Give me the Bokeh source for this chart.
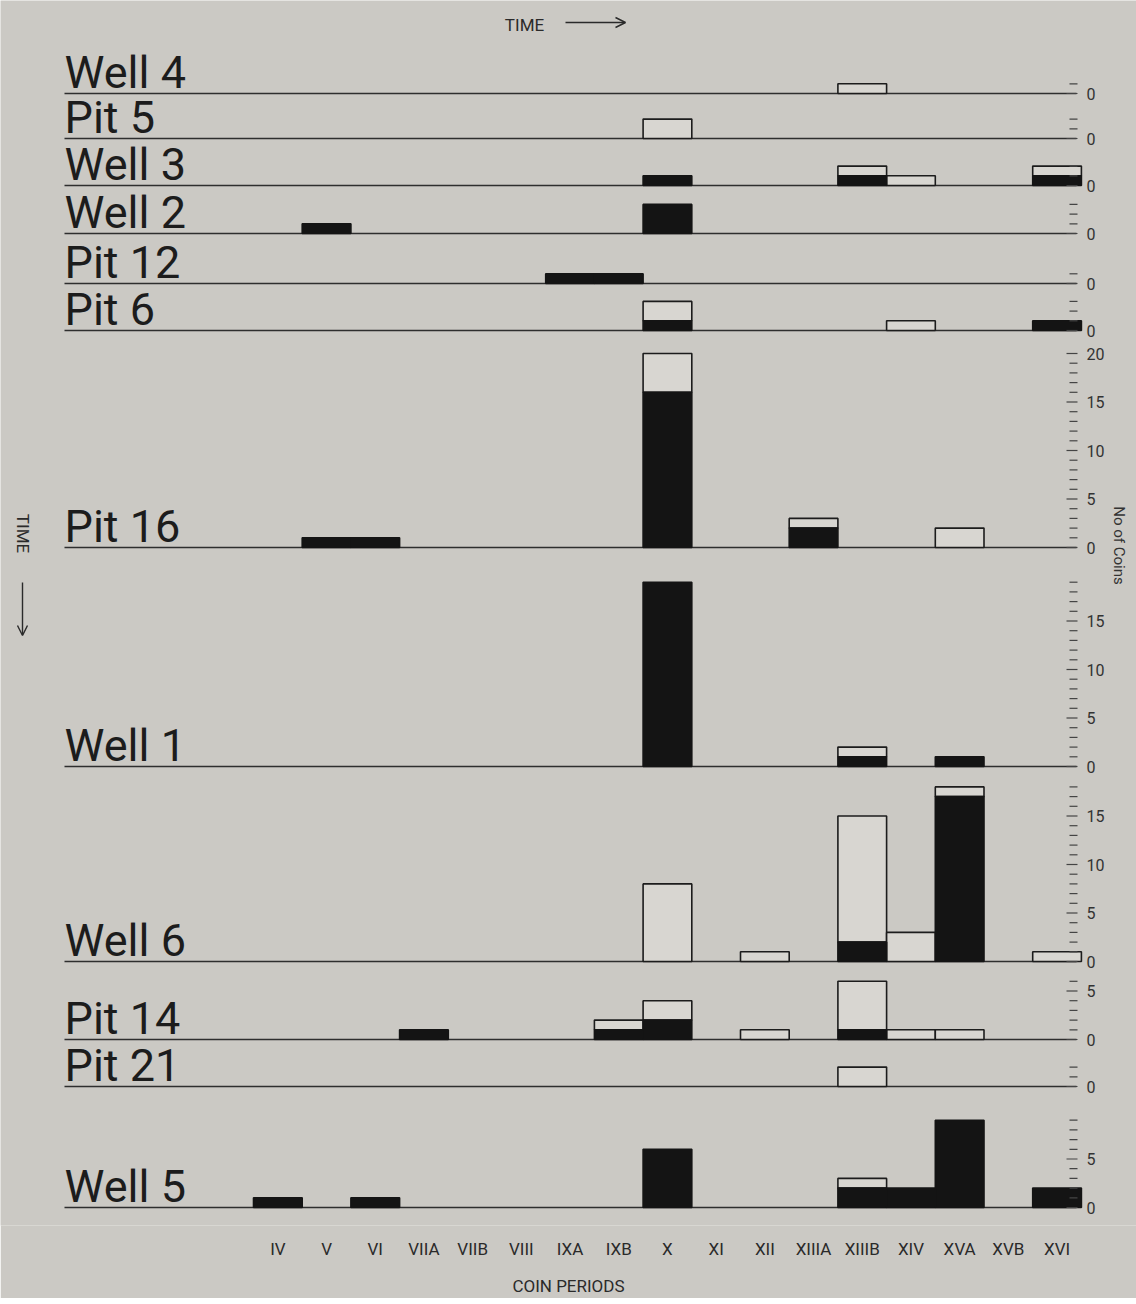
import math
from bokeh.plotting import figure
from bokeh.models import Range1d, FixedTicker, Arrow, OpenHead
from bokeh.core.properties import value
from bokeh.embed import file_html
from bokeh.resources import INLINE

# ---------------- data ----------------
periods = ["IV", "V", "VI", "VIIA", "VIIB", "VIII", "IXA", "IXB", "X", "XI",
           "XII", "XIIIA", "XIIIB", "XIV", "XVA", "XVB", "XVI"]

panel_names = ["Well 4", "Pit 5", "Well 3", "Well 2", "Pit 12", "Pit 6",
               "Pit 16", "Well 1", "Well 6", "Pit 14", "Pit 21", "Well 5"]

#                IV V VI VIIA VIIB VIII IXA IXB X  XI XII XIIIA XIIIB XIV XVA XVB XVI
well4_black  = [0, 0, 0, 0, 0, 0, 0, 0, 0, 0, 0, 0, 0, 0, 0, 0, 0]
well4_white  = [0, 0, 0, 0, 0, 0, 0, 0, 0, 0, 0, 0, 1, 0, 0, 0, 0]
pit5_black   = [0, 0, 0, 0, 0, 0, 0, 0, 0, 0, 0, 0, 0, 0, 0, 0, 0]
pit5_white   = [0, 0, 0, 0, 0, 0, 0, 0, 2, 0, 0, 0, 0, 0, 0, 0, 0]
well3_black  = [0, 0, 0, 0, 0, 0, 0, 0, 1, 0, 0, 0, 1, 0, 0, 0, 1]
well3_white  = [0, 0, 0, 0, 0, 0, 0, 0, 0, 0, 0, 0, 1, 1, 0, 0, 1]
well2_black  = [0, 1, 0, 0, 0, 0, 0, 0, 3, 0, 0, 0, 0, 0, 0, 0, 0]
well2_white  = [0, 0, 0, 0, 0, 0, 0, 0, 0, 0, 0, 0, 0, 0, 0, 0, 0]
pit12_black  = [0, 0, 0, 0, 0, 0, 1, 1, 0, 0, 0, 0, 0, 0, 0, 0, 0]
pit12_white  = [0, 0, 0, 0, 0, 0, 0, 0, 0, 0, 0, 0, 0, 0, 0, 0, 0]
pit6_black   = [0, 0, 0, 0, 0, 0, 0, 0, 1, 0, 0, 0, 0, 0, 0, 0, 1]
pit6_white   = [0, 0, 0, 0, 0, 0, 0, 0, 2, 0, 0, 0, 0, 1, 0, 0, 0]
pit16_black  = [0, 1, 1, 0, 0, 0, 0, 0, 16, 0, 0, 2, 0, 0, 0, 0, 0]
pit16_white  = [0, 0, 0, 0, 0, 0, 0, 0, 4, 0, 0, 1, 0, 0, 2, 0, 0]
well1_black  = [0, 0, 0, 0, 0, 0, 0, 0, 19, 0, 0, 0, 1, 0, 1, 0, 0]
well1_white  = [0, 0, 0, 0, 0, 0, 0, 0, 0, 0, 0, 0, 1, 0, 0, 0, 0]
well6_black  = [0, 0, 0, 0, 0, 0, 0, 0, 0, 0, 0, 0, 2, 0, 17, 0, 0]
well6_white  = [0, 0, 0, 0, 0, 0, 0, 0, 8, 0, 1, 0, 13, 3, 1, 0, 1]
pit14_black  = [0, 0, 0, 1, 0, 0, 0, 1, 2, 0, 0, 0, 1, 0, 0, 0, 0]
pit14_white  = [0, 0, 0, 0, 0, 0, 0, 1, 2, 0, 1, 0, 5, 1, 1, 0, 0]
pit21_black  = [0, 0, 0, 0, 0, 0, 0, 0, 0, 0, 0, 0, 0, 0, 0, 0, 0]
pit21_white  = [0, 0, 0, 0, 0, 0, 0, 0, 0, 0, 0, 0, 2, 0, 0, 0, 0]
well5_black  = [1, 0, 1, 0, 0, 0, 0, 0, 6, 0, 0, 0, 2, 2, 9, 0, 2]
well5_white  = [0, 0, 0, 0, 0, 0, 0, 0, 0, 0, 0, 0, 1, 0, 0, 0, 0]

black_series = [well4_black, pit5_black, well3_black, well2_black, pit12_black, pit6_black,
                pit16_black, well1_black, well6_black, pit14_black, pit21_black, well5_black]
white_series = [well4_white, pit5_white, well3_white, well2_white, pit12_white, pit6_white,
                pit16_white, well1_white, well6_white, pit14_white, pit21_white, well5_white]

# ---------------- layout ----------------
W, FRAME_H = 1136, 1225
SLOT_PX = 48.7          # width of one coin period
X0_PX = 277.35          # x of first period centre
COIN_PX = 9.7           # pixels per coin

def ux(px):
    return (px - X0_PX) / SLOT_PX

def uy(py):
    return (FRAME_H - py) / COIN_PX

panel_base_px = [93, 138, 185, 233, 283, 330, 547, 766, 961, 1039, 1086, 1207]

BG = "#cbc9c4"
INK = "#1c1c1c"
FONT = "Roboto"

p = figure(frame_width=W, frame_height=FRAME_H,
           x_range=Range1d(ux(0), ux(W)), y_range=Range1d(0, uy(0)),
           output_backend="svg", toolbar_location=None,
           y_axis_location=None, x_axis_location="below",
           min_border_left=0, min_border_right=0, min_border_top=0, min_border_bottom=0)
p.background_fill_color = BG
p.border_fill_color = BG
p.outline_line_color = None
p.grid.visible = False

# x axis: coin periods
ax = p.xaxis[0]
ax.ticker = FixedTicker(ticks=list(range(len(periods))))
ax.major_label_overrides = {i: name for i, name in enumerate(periods)}
ax.axis_line_color = None
ax.major_tick_line_color = None
ax.minor_tick_line_color = None
ax.major_label_standoff = 7
ax.major_label_text_font = FONT
ax.major_label_text_font_size = "17px"
ax.major_label_text_color = "#2a2a2a"
ax.axis_label = "COIN PERIODS"
ax.axis_label_standoff = 14
ax.axis_label_text_font = FONT
ax.axis_label_text_font_style = "normal"
ax.axis_label_text_font_size = "17px"
ax.axis_label_text_color = "#2a2a2a"

# bars
bl, br, bb, bt = [], [], [], []
wl, wr, wb, wt = [], [], [], []
base_x0, base_x1, base_y = [], [], []
tk_x0, tk_x1, tk_y = [], [], []
lab_x, lab_y, lab_t = [], [], []
name_x, name_y = [], []

for pi, name in enumerate(panel_names):
    base = uy(panel_base_px[pi])
    blk = black_series[pi]
    wht = white_series[pi]
    for i in range(len(periods)):
        b, w = blk[i], wht[i]
        if b > 0:
            bl.append(i - 0.5); br.append(i + 0.5); bb.append(base); bt.append(base + b)
        if w > 0:
            wl.append(i - 0.5); wr.append(i + 0.5); wb.append(base + b); wt.append(base + b + w)
    base_x0.append(ux(64)); base_x1.append(ux(1076)); base_y.append(base)
    mx = max(b + w for b, w in zip(blk, wht))
    for k in range(mx + 1):
        major = (k % 5 == 0)
        tk_x0.append(ux(1066 if major else 1069)); tk_x1.append(ux(1077)); tk_y.append(base + k)
        if major:
            lab_x.append(ux(1086)); lab_y.append(base + k); lab_t.append(str(k))
    name_x.append(ux(64)); name_y.append(base - 0.6)

p.segment(x0=base_x0, y0=base_y, x1=base_x1, y1=base_y, line_color="#2e2e2e", line_width=1.4)
p.quad(left=wl, right=wr, bottom=wb, top=wt, fill_color="#d8d6d1", line_color=INK, line_width=1.6)
p.quad(left=bl, right=br, bottom=bb, top=bt, fill_color="#141414", line_color="#141414", line_width=1.6)

# right scales
p.segment(x0=tk_x0, y0=tk_y, x1=tk_x1, y1=tk_y, line_color="#444444", line_width=1.2)
p.text(x=lab_x, y=lab_y, text=lab_t, text_font=value(FONT), text_font_size="16px",
       text_color="#333333", text_align="left", text_baseline="middle")

# panel names
p.text(x=name_x, y=name_y, text=panel_names, text_font=value(FONT), text_font_size="45px",
       text_color=INK, text_align="left", text_baseline="bottom")

# annotations
p.text(x=[ux(524)], y=[uy(24)], text=["TIME"], text_font=value(FONT), text_font_size="17px",
       text_color="#2a2a2a", text_align="center", text_baseline="middle")
p.add_layout(Arrow(end=OpenHead(size=10, line_width=1.4, line_color="#2a2a2a"),
                   x_start=ux(565), y_start=uy(22), x_end=ux(625), y_end=uy(22),
                   line_width=1.4, line_color="#2a2a2a"))
p.text(x=[ux(22)], y=[uy(533)], text=["TIME"], text_font=value(FONT), text_font_size="17px",
       text_color="#2a2a2a", text_align="center", text_baseline="middle", angle=-math.pi / 2)
p.add_layout(Arrow(end=OpenHead(size=10, line_width=1.4, line_color="#2a2a2a"),
                   x_start=ux(22), y_start=uy(582), x_end=ux(22), y_end=uy(635),
                   line_width=1.4, line_color="#2a2a2a"))
p.text(x=[ux(1118)], y=[uy(545)], text=["No of Coins"], text_font=value(FONT), text_font_size="15px",
       text_color="#333333", text_align="center", text_baseline="middle", angle=-math.pi / 2)

open("out.html", "w").write(file_html(p, INLINE))
